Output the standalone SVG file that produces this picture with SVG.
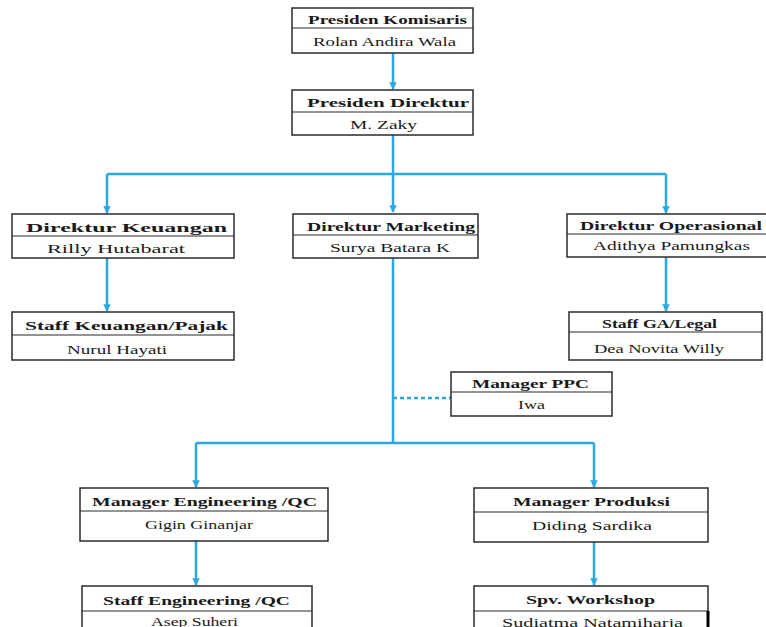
<svg xmlns="http://www.w3.org/2000/svg" width="766" height="627" viewBox="0 0 766 627">
<style>
.box{fill:#fff;stroke:#2b2b2b;stroke-width:1.5}
.div{stroke:#2b2b2b;stroke-width:1.2}
.h{font-family:"Liberation Serif","Times New Roman",serif;font-weight:bold;font-size:13.5px;fill:#1a1a1a}
.n{font-family:"Liberation Serif","Times New Roman",serif;font-size:13.5px;fill:#1a1a1a}
.c{fill:none;stroke:#2aa8df;stroke-width:2.5}
.d{fill:none;stroke:#2aa8df;stroke-width:2.5;stroke-dasharray:4 3}
</style>
<defs>
<marker id="ar" viewBox="0 0 10 10" refX="9" refY="5" markerWidth="3" markerHeight="3" orient="auto" markerUnits="strokeWidth">
<path d="M0,0 L10,5 L0,10 z" fill="#2aa8df"/>
</marker>
</defs>
<rect width="766" height="627" fill="#fff"/>
<g id="connectors">
<path class="c" d="M393,53 V89" marker-end="url(#ar)"/>
<path class="c" d="M393,135 V212" marker-end="url(#ar)"/>
<path class="c" d="M107,174 H666"/>
<path class="c" d="M107,174 V213" marker-end="url(#ar)"/>
<path class="c" d="M666,174 V213" marker-end="url(#ar)"/>
<path class="c" d="M107,258 V311" marker-end="url(#ar)"/>
<path class="c" d="M666,257 V311" marker-end="url(#ar)"/>
<path class="c" d="M393,258 V443"/>
<path class="d" d="M393,398 H451"/>
<path class="c" d="M196,443 H594"/>
<path class="c" d="M196,443 V487" marker-end="url(#ar)"/>
<path class="c" d="M594,443 V487" marker-end="url(#ar)"/>
<path class="c" d="M196,541 V585" marker-end="url(#ar)"/>
<path class="c" d="M594,542 V585" marker-end="url(#ar)"/>
</g>
<g id="presiden-komisaris">
<rect class="box" x="292" y="8" width="181" height="45"/>
<line class="div" x1="292" y1="28" x2="473" y2="28"/>
<text class="h" x="308" y="24" textLength="159" lengthAdjust="spacingAndGlyphs">Presiden Komisaris</text>
<text class="n" x="313" y="46" textLength="143" lengthAdjust="spacingAndGlyphs">Rolan Andira Wala</text>
</g>
<g id="presiden-direktur">
<rect class="box" x="292" y="90" width="181" height="45"/>
<line class="div" x1="292" y1="112" x2="473" y2="112"/>
<text class="h" x="307" y="107" textLength="162" lengthAdjust="spacingAndGlyphs">Presiden Direktur</text>
<text class="n" x="350" y="129" textLength="67" lengthAdjust="spacingAndGlyphs">M. Zaky</text>
</g>
<g id="direktur-keuangan">
<rect class="box" x="12" y="214" width="222" height="44"/>
<line class="div" x1="12" y1="236" x2="234" y2="236"/>
<text class="h" x="26" y="232" textLength="201" lengthAdjust="spacingAndGlyphs">Direktur Keuangan</text>
<text class="n" x="47" y="253" textLength="138" lengthAdjust="spacingAndGlyphs">Rilly Hutabarat</text>
</g>
<g id="direktur-marketing">
<rect class="box" x="293" y="214" width="185" height="44"/>
<line class="div" x1="293" y1="235" x2="478" y2="235"/>
<text class="h" x="307" y="231" textLength="168" lengthAdjust="spacingAndGlyphs">Direktur Marketing</text>
<text class="n" x="330" y="252" textLength="120" lengthAdjust="spacingAndGlyphs">Surya Batara K</text>
</g>
<g id="direktur-operasional">
<rect class="box" x="567" y="214" width="200" height="43"/>
<line class="div" x1="567" y1="234" x2="766" y2="234"/>
<text class="h" x="580" y="230" textLength="182" lengthAdjust="spacingAndGlyphs">Direktur Operasional</text>
<text class="n" x="593" y="250" textLength="157" lengthAdjust="spacingAndGlyphs">Adithya Pamungkas</text>
</g>
<g id="staff-keuangan">
<rect class="box" x="12" y="312" width="222" height="48"/>
<line class="div" x1="12" y1="335" x2="234" y2="335"/>
<text class="h" x="25" y="330" textLength="203" lengthAdjust="spacingAndGlyphs">Staff Keuangan/Pajak</text>
<text class="n" x="67" y="354" textLength="100" lengthAdjust="spacingAndGlyphs">Nurul Hayati</text>
</g>
<g id="staff-ga-legal">
<rect class="box" x="569" y="312" width="193" height="48"/>
<line class="div" x1="569" y1="332" x2="762" y2="332"/>
<text class="h" x="602" y="328" textLength="115" lengthAdjust="spacingAndGlyphs">Staff GA/Legal</text>
<text class="n" x="594" y="353" textLength="130" lengthAdjust="spacingAndGlyphs">Dea Novita Willy</text>
</g>
<g id="manager-ppc">
<rect class="box" x="451" y="372" width="161" height="44"/>
<line class="div" x1="451" y1="392" x2="612" y2="392"/>
<text class="h" x="472" y="388" textLength="117" lengthAdjust="spacingAndGlyphs">Manager PPC</text>
<text class="n" x="518" y="409" textLength="27" lengthAdjust="spacingAndGlyphs">Iwa</text>
</g>
<g id="manager-engineering">
<rect class="box" x="80" y="488" width="248" height="53"/>
<line class="div" x1="80" y1="511" x2="328" y2="511"/>
<text class="h" x="92" y="506" textLength="225" lengthAdjust="spacingAndGlyphs">Manager Engineering /QC</text>
<text class="n" x="145" y="529" textLength="108" lengthAdjust="spacingAndGlyphs">Gigin Ginanjar</text>
</g>
<g id="manager-produksi">
<rect class="box" x="474" y="488" width="234" height="54"/>
<line class="div" x1="474" y1="512" x2="708" y2="512"/>
<text class="h" x="513" y="506" textLength="157" lengthAdjust="spacingAndGlyphs">Manager Produksi</text>
<text class="n" x="532" y="530" textLength="120" lengthAdjust="spacingAndGlyphs">Diding Sardika</text>
</g>
<g id="staff-engineering">
<rect class="box" x="82" y="586" width="230" height="50"/>
<line class="div" x1="82" y1="611" x2="312" y2="611"/>
<text class="h" x="103" y="605" textLength="187" lengthAdjust="spacingAndGlyphs">Staff Engineering /QC</text>
<text class="n" x="151" y="626" textLength="87" lengthAdjust="spacingAndGlyphs">Asep Suheri</text>
</g>
<g id="spv-workshop">
<rect class="box" x="474" y="586" width="234" height="50"/>
<line class="div" x1="474" y1="611" x2="708" y2="611"/>
<line x1="708" y1="611" x2="708" y2="627" stroke="#000" stroke-width="3"/>
<text class="h" x="526" y="604" textLength="129" lengthAdjust="spacingAndGlyphs">Spv. Workshop</text>
<text class="n" x="502" y="627" textLength="181" lengthAdjust="spacingAndGlyphs">Sudiatma Natamiharja</text>
</g>
</svg>
